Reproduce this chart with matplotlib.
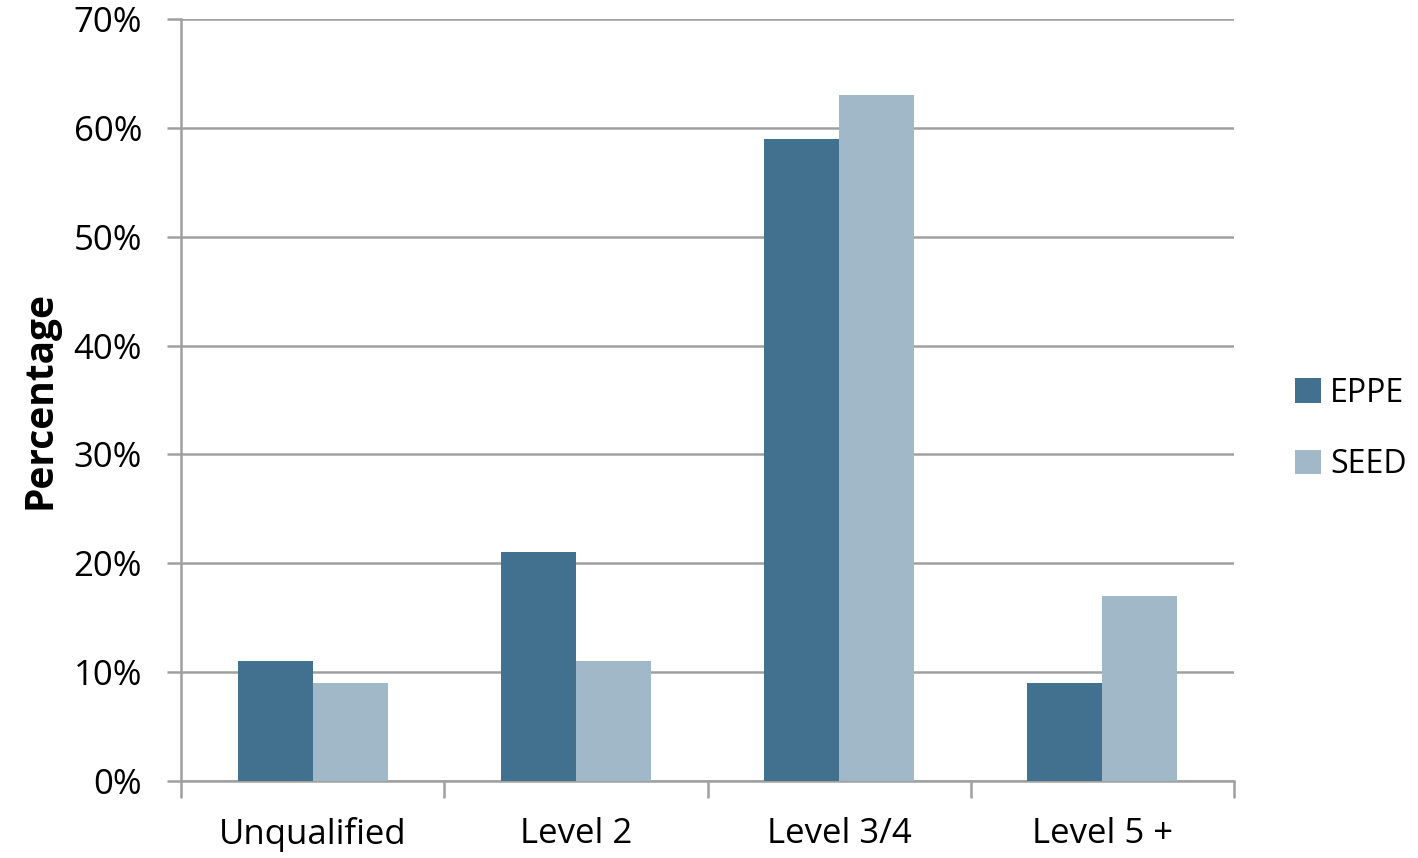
import matplotlib
matplotlib.use("Agg")
import matplotlib.pyplot as plt
import numpy as np

categories = ["Unqualified", "Level 2", "Level 3/4", "Level 5 +"]
eppe = [11, 21, 59, 9]
seed = [9, 11, 63, 17]
yticks = [0, 10, 20, 30, 40, 50, 60, 70]
ytick_labels = [f"{v}%" for v in yticks]

plt.rcParams['font.family'] = ['Open Sans', 'DejaVu Sans']

fig = plt.figure(figsize=(14.18, 8.58), dpi=100)
ax = fig.add_axes([181/1418, 77/858, (1234-181)/1418, (781-19)/858])

x = np.arange(len(categories))
w = 0.285
c_eppe = "#41718f"
c_seed = "#a1b8c8"
ax.bar(x - w/2, eppe, width=w, color=c_eppe, label="EPPE", zorder=3)
ax.bar(x + w/2, seed, width=w, color=c_seed, label="SEED", zorder=3)

gray = "#a0a0a0"
ax.set_xlim(-0.5, len(categories) - 0.5)
ax.set_ylim(0, 70)
ax.set_yticks(yticks)
ax.set_yticklabels(ytick_labels)
ax.yaxis.grid(True, color=gray, linewidth=1.8, zorder=0)
ax.set_axisbelow(True)

fs = 25
ax.set_xticks(x)
ax.set_xticklabels(categories)
ax.set_xticks(np.arange(len(categories) + 1) - 0.5, minor=True)
ax.tick_params(axis='x', which='major', length=0, pad=26, labelsize=fs)
ax.tick_params(axis='x', which='minor', length=12, width=1.8, color=gray)
ax.tick_params(axis='y', length=10, width=1.8, color=gray, pad=18, labelsize=fs)

for s in ['top', 'right']:
    ax.spines[s].set_visible(False)
for s in ['left', 'bottom']:
    ax.spines[s].set_color(gray)
    ax.spines[s].set_linewidth(1.8)

ax.set_ylabel("Percentage", fontsize=28, fontweight='bold', labelpad=10)

ax.legend(loc='center left', bbox_to_anchor=(1.058, 0.462), frameon=False,
          fontsize=23, handlelength=0.8, handleheight=0.8, labelspacing=1.2,
          handletextpad=0.3, borderaxespad=0, borderpad=0)

fig.savefig("out.png", dpi=100)
